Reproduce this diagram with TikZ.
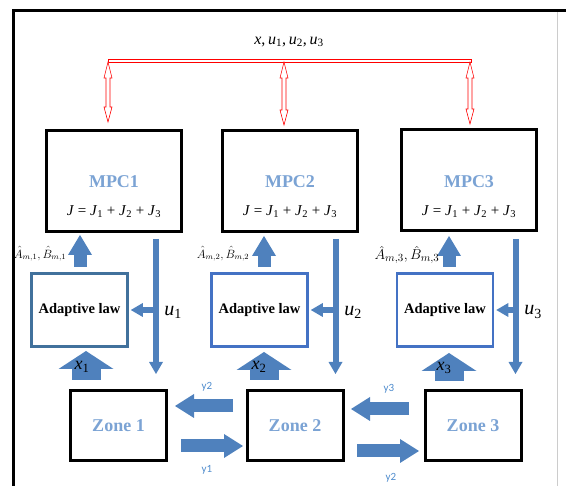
\documentclass[tikz,border=0pt]{standalone}
\usepackage{fontspec}
\setmainfont{Liberation Serif}
\newfontfamily\calibrifont{Carlito}
\usetikzlibrary{arrows.meta}
\definecolor{arrowblue}{RGB}{79,129,189}
\definecolor{lawdark}{RGB}{65,113,156}
\definecolor{lawblue}{RGB}{68,114,196}
\definecolor{textblue}{RGB}{123,163,212}
\definecolor{ylab}{RGB}{79,140,205}
\newcommand\redtwoway[3]{%
  \draw[redoutline] (#1,#2) -- ({#1+4},{#2+16}) -- ({#1+2},{#2+16}) -- ({#1+2},{#3-15})
    -- ({#1+4},{#3-15}) -- (#1,#3) -- ({#1-4},{#3-15}) -- ({#1-2},{#3-15})
    -- ({#1-2},{#2+16}) -- ({#1-4},{#2+16}) -- cycle;}
\begin{document}
\begin{tikzpicture}[x=1pt,y=-1pt,
  redoutline/.style={draw=red, fill=white, line width=0.6pt, line join=miter},
  mpcbox/.style={draw=black, line width=3pt, minimum width=135pt, minimum height=101pt, inner sep=0pt},
  lawbox/.style={line width=2.6pt, minimum width=96pt, minimum height=73pt, inner sep=0pt,
     font=\bfseries\fontsize{14.5}{16}\selectfont},
  zonebox/.style={draw=black, line width=3pt, minimum width=96pt, minimum height=70pt, inner sep=0pt,
     font=\bfseries\fontsize{18}{20}\selectfont, text=textblue},
  mpctitle/.style={font=\bfseries\fontsize{18}{20}\selectfont, text=textblue, inner sep=0pt},
  eqtext/.style={font=\fontsize{15}{17}\selectfont, inner sep=0pt},
  fatarrow/.style={arrowblue, line width=13pt, -{Triangle[length=20pt,width=24pt,line width=0pt]}},
  widearrow/.style={arrowblue, line width=29pt, -{Triangle[length=18pt,width=55pt,line width=0pt]}},
  thinarrow/.style={arrowblue, line width=6pt, -{Triangle[length=12pt,width=14pt,line width=0pt]}},
  zonearrow/.style={arrowblue, line width=13pt, -{Triangle[length=19pt,width=24pt,line width=0pt]}},
  ulabel/.style={font=\fontsize{20}{22}\selectfont, inner sep=0pt},
  xlabel/.style={font=\fontsize{18}{20}\selectfont, inner sep=0pt},
  ylabelstyle/.style={font=\calibrifont\fontsize{11}{13}\selectfont, text=ylab, inner sep=0pt}
]
\useasboundingbox (0,0) rectangle (566,486);
% outer frame
\draw[line width=3pt, line join=miter] (13,492) -- (13,11) -- (572,11);
\draw[gray!40, line width=0.8pt] (557,12.5) -- (557,486);

% top bus
\node[inner sep=0pt, font=\fontsize{16}{18}\selectfont] (toplabel) at (289,42)
  {\textit{x},\,\textit{u}\textsubscript{1},\,\textit{u}\textsubscript{2},\,\textit{u}\textsubscript{3}};
\draw[red, line width=0.6pt, fill=white] (108,59) rectangle (471,62);
\redtwoway{108}{62}{122}
\redtwoway{284}{62}{125}
\redtwoway{470}{62}{124}

% MPC boxes
\node[mpcbox] (mpc1) at (114,181) {};
\node[mpcbox] (mpc2) at (290,181) {};
\node[mpcbox] (mpc3) at (469,180.5) {};
\node[mpctitle] (t1) at (114,182) {MPC1};
\node[mpctitle] (t2) at (290,182) {MPC2};
\node[mpctitle] (t3) at (469,182) {MPC3};
\node[eqtext] (e1) at (114,212) {\textit{J} = \textit{J}\textsubscript{1} + \textit{J}\textsubscript{2} + \textit{J}\textsubscript{3}};
\node[eqtext] (e2) at (290,212) {\textit{J} = \textit{J}\textsubscript{1} + \textit{J}\textsubscript{2} + \textit{J}\textsubscript{3}};
\node[eqtext] (e3) at (469,212) {\textit{J} = \textit{J}\textsubscript{1} + \textit{J}\textsubscript{2} + \textit{J}\textsubscript{3}};

% adaptive law boxes
\node[lawbox, draw=lawdark] (law1) at (79.5,310) {Adaptive law};
\node[lawbox, draw=lawblue] (law2) at (259.5,310) {Adaptive law};
\node[lawbox, draw=lawblue] (law3) at (445,310) {Adaptive law};

% zones
\node[zonebox] (zone1) at (118.5,425.5) {Zone 1};
\node[zonebox] (zone2) at (295,425.5) {Zone 2};
\node[zonebox] (zone3) at (473,425.5) {Zone 3};

% parameter arrows (adaptive law -> MPC)
\coordinate (a1s) at (80,267);  \coordinate (a1e) at (80,235);
\coordinate (a2s) at (264,267); \coordinate (a2e) at (264,236);
\coordinate (a3s) at (449,267); \coordinate (a3e) at (449,236);
\draw[fatarrow] (a1s) -- (a1e);
\draw[fatarrow] (a2s) -- (a2e);
\draw[fatarrow] (a3s) -- (a3e);
\node[inner sep=0pt, font=\fontsize{11.5}{13}\selectfont] (p1) at (40,254)
  {$\hat{A}_{m,1},\hat{B}_{m,1}$};
\node[inner sep=0pt, font=\fontsize{11.5}{13}\selectfont] (p2) at (223,254)
  {$\hat{A}_{m,2},\hat{B}_{m,2}$};
\node[inner sep=0pt, font=\fontsize{15}{17}\selectfont] (p3) at (407,255)
  {$\hat{A}_{m,3},\hat{B}_{m,3}$};

% control arrows (MPC -> zone, branch to adaptive law)
\coordinate (u1s) at (156,239); \coordinate (u1e) at (156,374); \coordinate (u1b) at (156,310);
\coordinate (u2s) at (335.5,239); \coordinate (u2e) at (335.5,374); \coordinate (u2b) at (335.5,310);
\coordinate (u3s) at (515.5,239); \coordinate (u3e) at (515.5,374); \coordinate (u3b) at (515.5,310);
\draw[thinarrow] (u1s) -- (u1e);
\draw[thinarrow] (u2s) -- (u2e);
\draw[thinarrow] (u3s) -- (u3e);
\draw[thinarrow] (u1b) -- ([xshift=2pt]law1.east);
\draw[thinarrow] (u2b) -- ([xshift=2pt]law2.east);
\draw[thinarrow] (u3b) -- ([xshift=2pt]law3.east);
\node[ulabel] (lu1) at (173,312) {\textit{u}\textsubscript{1}};
\node[ulabel] (lu2) at (353,312) {\textit{u}\textsubscript{2}};
\node[ulabel] (lu3) at (533,312) {\textit{u}\textsubscript{3}};

% state arrows (zone -> adaptive law)
\coordinate (x1s) at (86,380);  \coordinate (x1e) at (86,351);
\coordinate (x2s) at (264,380); \coordinate (x2e) at (264,352);
\coordinate (x3s) at (449,381); \coordinate (x3e) at (449,353);
\draw[widearrow] (x1s) -- (x1e);
\draw[widearrow] (x2s) -- (x2e);
\draw[widearrow] (x3s) -- (x3e);
\node[xlabel] (lx1) at (82,367) {\textit{x}\textsubscript{1}};
\node[xlabel] (lx2) at (259,367) {\textit{x}\textsubscript{2}};
\node[xlabel] (lx3) at (444,368) {\textit{x}\textsubscript{3}};

% coupling arrows between zones
\coordinate (c1s) at (233,406); \coordinate (c1e) at (175,406);
\coordinate (c2s) at (181,446); \coordinate (c2e) at (243,446);
\coordinate (c3s) at (409,409); \coordinate (c3e) at (351,409);
\coordinate (c4s) at (357,451); \coordinate (c4e) at (419,451);
\draw[zonearrow] (c1s) -- (c1e);
\draw[zonearrow] (c2s) -- (c2e);
\draw[zonearrow] (c3s) -- (c3e);
\draw[zonearrow] (c4s) -- (c4e);
\node[ylabelstyle] (ly1) at (207,387) {y2};
\node[ylabelstyle] (ly2) at (207,470) {y1};
\node[ylabelstyle] (ly3) at (389,389) {y3};
\node[ylabelstyle] (ly4) at (391,478) {y2};
\end{tikzpicture}
\end{document}
